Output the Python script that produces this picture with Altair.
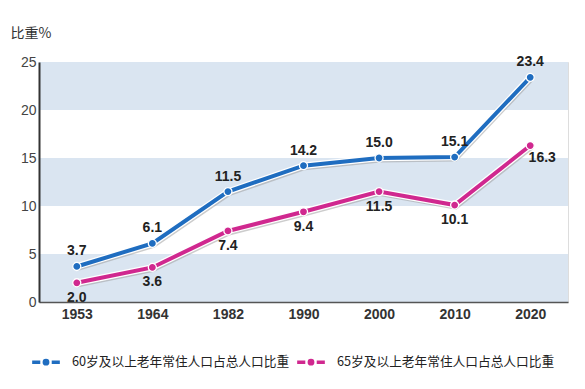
import altair as alt
import pandas as pd

years = ["1953", "1964", "1982", "1990", "2000", "2010", "2020"]
s60 = [3.7, 6.1, 11.5, 14.2, 15.0, 15.1, 23.4]
s65 = [2.0, 3.6, 7.4, 9.4, 11.5, 10.1, 16.3]
name60 = "60岁及以上老年常住人口占总人口比重"
name65 = "65岁及以上老年常住人口占总人口比重"
band_lo = [0, 10, 20]
band_hi = [5, 15, 25]

BLUE = "#1f6dc0"
MAG = "#d0288f"
FONT = "Noto Sans CJK SC"

rows = []
for y, v in zip(years, s60):
    rows.append({"year": y, "value": v, "series": name60, "lab": f"{v:.1f}"})
for y, v in zip(years, s65):
    rows.append({"year": y, "value": v, "series": name65, "lab": f"{v:.1f}"})
df = pd.DataFrame(rows)
bands = pd.DataFrame({"lo": band_lo, "hi": band_hi})

xscale = alt.Scale(paddingInner=1, paddingOuter=0.5, domain=years)
xaxis = alt.Axis(title=None, labelAngle=0, ticks=False, domain=True,
                 domainColor="#555", domainWidth=1.5, zindex=1,
                 labelFont="Liberation Sans", labelFontWeight="bold",
                 labelFontSize=14, labelColor="#333", labelPadding=5)
yscale = alt.Scale(domain=[0, 25], nice=False)
yaxis = alt.Axis(title="比重%", titleAngle=0, titleX=-29, titleY=-29,
                 titleAlign="left", titleBaseline="middle", titleFont=FONT,
                 titleFontSize=14, titleFontWeight="normal", titleColor="#333",
                 values=[0, 5, 10, 15, 20, 25], ticks=False, grid=False,
                 domain=True, domainColor="#333", domainWidth=2, zindex=1,
                 labelFont="Liberation Sans", labelFontSize=14,
                 labelColor="#444", labelPadding=3)

band_layer = alt.Chart(bands).mark_rect(color="#dae5f1").encode(
    y=alt.Y("lo:Q", scale=yscale, axis=yaxis),
    y2="hi:Q",
    x=alt.value(0), x2=alt.value(529),
)

color = alt.Color("series:N", sort=[name60, name65],
                  scale=alt.Scale(domain=[name60, name65], range=[BLUE, MAG]),
                  legend=alt.Legend(
                      title=None, orient="none", direction="horizontal",
                      legendX=-4, legendY=289,
                      symbolType="M-1.5,0L-0.62,0M0.62,0L1.5,0M-0.18,0A0.18,0.18,0,1,1,0.18,0A0.18,0.18,0,1,1,-0.18,0",
                      symbolSize=340, symbolStrokeWidth=3.5,
                      labelFont=FONT, labelFontSize=12.7, labelColor="#222",
                      labelFontWeight="normal", labelLimit=400,
                      columnPadding=0, labelOffset=15, symbolOffset=0))

base = alt.Chart(df).encode(
    x=alt.X("year:N", sort=years, scale=xscale, axis=xaxis),
    y=alt.Y("value:Q", scale=yscale, axis=yaxis),
    detail="series:N",
)

shadow = base.mark_line(color="#9a9a9a", strokeWidth=5, opacity=0.5,
                        xOffset=1, yOffset=2)
halo = base.mark_line(color="white", strokeWidth=6.5)
lines = base.mark_line(strokeWidth=4).encode(color=color)
pts = base.mark_point(filled=True, size=65, stroke="white", strokeWidth=1.3,
                      opacity=1).encode(
    fill=alt.Fill("series:N", scale=alt.Scale(domain=[name60, name65], range=[BLUE, MAG]),
                  legend=None))

def labels(d, dx, dy):
    return alt.Chart(d).mark_text(
        font="Liberation Sans", fontWeight="bold", fontSize=14, color="#222", dx=dx, dy=dy
    ).encode(x=alt.X("year:N", sort=years, scale=xscale, axis=xaxis),
             y=alt.Y("value:Q", scale=yscale, axis=yaxis), text="lab:N")

lab60 = labels(df[df.series == name60], 0, -15)
lab65 = labels(df[(df.series == name65) & (df.year != "2020")], 0, 15)
lab65b = labels(df[(df.series == name65) & (df.year == "2020")], 12, 12)

chart = alt.layer(band_layer, shadow, halo, lines, pts, lab60, lab65, lab65b).resolve_scale(
    fill="independent"
).properties(
    width=529, height=240,
    autosize=alt.AutoSizeParams(type="none"),
    padding={"left": 31, "top": 54, "right": 9, "bottom": 79},
).configure_view(stroke=None).configure(background="white")

chart.save("out.html", embed_options={"renderer": "svg", "actions": False})
